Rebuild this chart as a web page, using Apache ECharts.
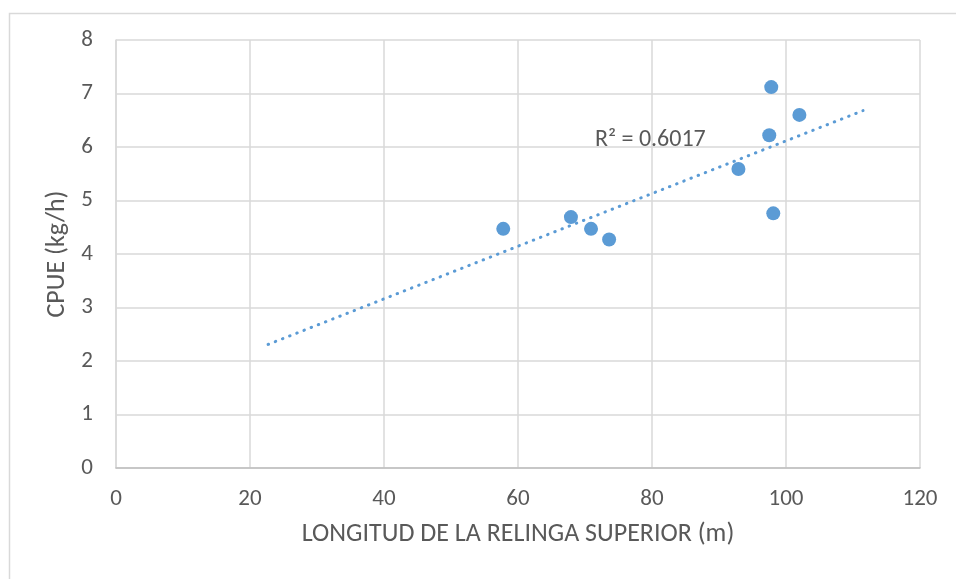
<!DOCTYPE html>
<html>
<head>
<meta charset="utf-8">
<script src="https://cdn.jsdelivr.net/npm/echarts@6/dist/echarts.min.js"></script>
<style>
html,body{margin:0;padding:0;background:#fff;}
#chart{width:956px;height:579px;}
</style>
</head>
<body>
<div id="chart"></div>
<script>
// Data
var lengthM = [57.8, 67.9, 70.9, 73.6, 92.9, 97.5, 97.8, 98.1, 102.0];
var cpue    = [4.47, 4.69, 4.47, 4.27, 5.59, 6.22, 7.12, 4.76, 6.60];
var trendX  = [22.7, 111.5];
var trendY  = [2.31, 6.68];
var r2Text  = 'R² = 0.6017';
var xTitle  = 'LONGITUD DE LA RELINGA SUPERIOR (m)';
var yTitle  = 'CPUE (kg/h)';

var FONT = 'Carlito, Calibri, "Liberation Sans", Arial, sans-serif';
var TXT = '#595959';
var BLUE = '#5B9BD5';

var pts = lengthM.map(function (x, i) { return [x, cpue[i]]; });
var trend = trendX.map(function (x, i) { return [x, trendY[i]]; });

var chart = echarts.init(document.getElementById('chart'), null, {renderer: 'canvas'});
chart.setOption({
  animation: false,
  backgroundColor: '#fff',
  textStyle: {fontFamily: FONT},
  grid: {left: 116, right: 36, top: 40, bottom: 111, containLabel: false},
  xAxis: {
    type: 'value', min: 0, max: 120, interval: 20,
    name: xTitle, nameLocation: 'middle', nameGap: 53,
    nameTextStyle: {fontFamily: FONT, fontSize: 26, color: TXT},
    axisLine: {show: true, lineStyle: {color: '#BFBFBF', width: 1.5}},
    axisTick: {show: false},
    axisLabel: {fontFamily: FONT, fontSize: 23, color: TXT, margin: 20},
    splitLine: {show: true, lineStyle: {color: '#D9D9D9', width: 1.5}}
  },
  yAxis: {
    type: 'value', min: 0, max: 8, interval: 1,
    name: yTitle, nameLocation: 'middle', nameGap: 42, nameRotate: 90,
    nameTextStyle: {fontFamily: FONT, fontSize: 26, color: TXT},
    axisLine: {show: true, lineStyle: {color: '#D9D9D9', width: 1.5}},
    axisTick: {show: false},
    axisLabel: {fontFamily: FONT, fontSize: 23, color: TXT, margin: 23},
    splitLine: {show: true, lineStyle: {color: '#D9D9D9', width: 1.5}}
  },
  graphic: [
    {type: 'rect', left: 7, top: 11, silent: true, z: -10,
     shape: {width: 1000, height: 1000},
     style: {fill: 'none', stroke: '#D9D9D9', lineWidth: 1.5}},
    {type: 'text', left: 595, top: 128, z: 10,
     style: {text: r2Text, font: '24px ' + FONT, fill: TXT}}
  ],
  series: [
    {
      type: 'line', data: trend, symbol: 'none', z: 3,
      lineStyle: {color: BLUE, width: 3, type: [0.5, 7.2], cap: 'round'}
    },
    {
      type: 'scatter', data: pts, symbol: 'circle', symbolSize: 14, z: 4,
      itemStyle: {color: BLUE, opacity: 1}
    }
  ]
});
</script>
</body>
</html>
